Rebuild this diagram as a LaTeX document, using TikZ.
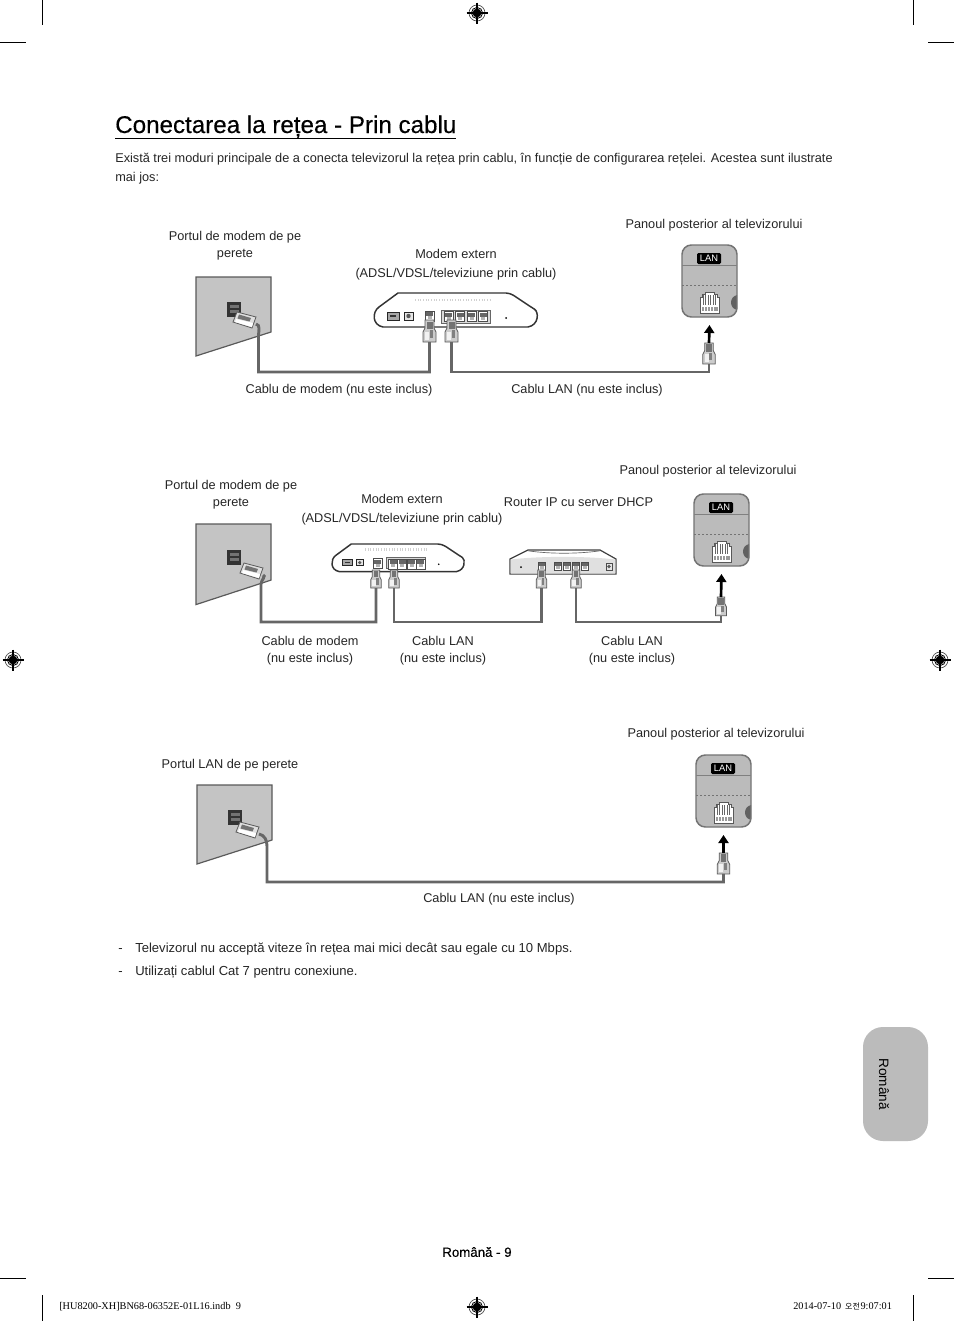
\documentclass[tikz,border=0pt]{standalone}
\usepackage{fontspec}
\setmainfont{Liberation Sans}
\newfontfamily\serifft{Liberation Serif}
\newfontfamily\krfont{Noto Sans CJK KR}
\newfontfamily\medft[FakeBold=0.25]{Liberation Sans}
\usetikzlibrary{arrows.meta,calc}
\newcommand{\bodyfs}{\fontsize{9.55pt}{12.75pt}\selectfont}
\definecolor{wallgray}{HTML}{C4C4C4}
\definecolor{tabgray}{HTML}{BBBBBB}
\definecolor{edgegray}{HTML}{5A5A5A}
\definecolor{cablegray}{HTML}{666666}
\tikzset{
  lbl/.style={inner sep=0pt,align=center,font=\bodyfs,text=black!85},
  lblwide/.style={lbl,font=\fontsize{9.55pt}{14.25pt}\selectfont},
  para/.style={inner sep=0pt,anchor=base west,font=\bodyfs,text=black!85},
  note/.style={para,font=\fontsize{9.8pt}{12.75pt}\selectfont},
  footer/.style={inner sep=0pt,anchor=base west,font=\serifft\fontsize{7.7pt}{9pt}\selectfont},
  cable/.style={draw=cablegray,line width=2.2pt,line join=miter},
  crop/.style={draw=black,line width=.5pt},
  thinline/.style={draw=edgegray,line width=.6pt},
  toTV/.style={draw=black,line width=2pt,-{Triangle[length=6pt,width=7.5pt]}},
  wall/.pic={
    \draw[fill=wallgray,draw=edgegray,line width=.9pt] (0,0) -- (75,0) -- (75,55) -- (0,79) -- cycle;
    \fill[black!80] (31,25) rectangle (45,40);
    \fill[black!55] (33.5,28) rectangle (42.5,31);
    \fill[black!55] (33.5,33) rectangle (42.5,36);
  },
  wallplug/.pic={
    \draw[fill=black!12,thinline] (4,0) -- (23,5) -- (19,16) -- (0,10) -- cycle;
    \draw[fill=black!55,draw=none] (6,2.5) -- (18,6) -- (16.5,9.5) -- (4.5,6.5) -- cycle;
    \draw[fill=white,draw=none] (2,10) -- (19,15) -- (20,11) -- (3,7) -- cycle;
    \coordinate (-out) at (23,12);
  },
  plugv/.pic={
    \draw[fill=black!20,thinline] (-4.5,0) -- (4.5,0) -- (4.5,8) -- (6.5,12) -- (6.5,22) -- (-6.5,22) -- (-6.5,12) -- (-4.5,8) -- cycle;
    \fill[black!55] (-3,1.5) rectangle (3,9);
    \fill[black!5] (-4.5,12) rectangle (-.5,20);
    \fill[black!50] (.5,10) rectangle (3.5,18);
    \coordinate (-end) at (0,22);
    \coordinate (-tip) at (0,0);
  },
  portglyph/.pic={
    \draw[fill=white,draw=black!70,line width=.5pt] (0,0) rectangle (9,10);
    \fill[black!60] (1,1) rectangle (8,5);
    \fill[black!30] (2.5,5) rectangle (6.5,8);
  },
  modembox/.pic={
    \draw[fill=white,draw=black!80,line width=1.1pt] [rounded corners=3pt] (25,0) -- (137,0) -- (158,14) [sharp corners] .. controls (166,19) and (166,32) .. (155,34) -- (10,34) .. controls (-1,32) and (-1,19) .. (6,14) -- cycle;
    \draw[black!18,line width=2pt,dash pattern=on .8pt off 1.2pt] (42,7) -- (118,7);
    \draw[fill=black!35,draw=black!85,line width=.7pt] (14,19) rectangle (26,27);
    \fill[black!80] (17,22) rectangle (23,24);
    \draw[fill=black!10,draw=black!85,line width=.7pt] (31,19) rectangle (40,27);
    \fill[black!65] (35.5,23) circle (2.2);
    \pic at (52,18) {portglyph};
    \draw[fill=black!15,draw=black!60,line width=.5pt] (68,17) rectangle (117,30);
    \pic at (71,18.5) {portglyph};
    \pic at (82.5,18.5) {portglyph};
    \pic at (94,18.5) {portglyph};
    \pic at (105.5,18.5) {portglyph};
    \fill[black] (133,25) circle (1);
  },
  routerbox/.pic={
    \draw[fill=white,draw=black!75,line width=.9pt] (18,0) -- (90,0) -- (106,9) -- (106,24) -- (0,24) -- (0,9) -- cycle;
    \fill[black!12] (.6,9.5) .. controls (30,6) and (76,6) .. (105.4,9.5) -- (105.4,23.5) -- (.6,23.5) -- cycle;
    \draw[black!60,line width=.5pt] (18,.8) .. controls (40,4) and (68,4) .. (90,.8);
    \fill[black] (11,17) circle (1);
    \pic[scale=.85] at (28,12) {portglyph};
    \pic[scale=.85] at (44,12) {portglyph};
    \pic[scale=.85] at (53,12) {portglyph};
    \pic[scale=.85] at (62,12) {portglyph};
    \pic[scale=.85] at (71,12) {portglyph};
    \draw[fill=black!10,draw=black!70,line width=.5pt] (96,13) rectangle (102,20);
    \fill[black!65] (99,16.5) circle (1.8);
  },
  tvpanel/.pic={
    \draw[fill=tabgray,draw=none,rounded corners=7] (0,0) rectangle (55,72);
    \fill[black!62] (55,50) .. controls (47,52) and (47,63) .. (55,65) -- cycle;
    \draw[draw=black!55,line width=1.1pt,rounded corners=7] (0,0) rectangle (55,72);
    \draw[black!50,line width=.7pt] (0,20) -- (55,20);
    \draw[black!55,line width=.7pt,dash pattern=on 1.5pt off 1.5pt] (0,40) -- (55,40);
    \fill[black,rounded corners=1] (15,8) rectangle (39,19);
    \node[inner sep=0pt,text=white,font=\fontsize{7pt}{8pt}\selectfont] (-lan) at (27,13.6) {LAN};
    \draw[fill=white,draw=black!65,line width=.5pt] (23,47) -- (32,47) -- (32,49) -- (35,49) -- (35,52) -- (37,52) -- (37,68) -- (18,68) -- (18,52) -- (20,52) -- (20,49) -- (23,49) -- cycle;
    \foreach \i in {21,23.5,26,28.5,31,33.5}{\draw[black!60,line width=.4pt] (\i,50) -- (\i,60);}
    \foreach \i in {19.5,22.5,25.5,28.5,31.5,34}{\draw[fill=black!40,draw=none] (\i,62) rectangle +(2,4);}
    \coordinate (-bottom) at (27.5,80);
  },
  regmark/.pic={
    \draw[black!70,line width=.5pt] (0,0) circle (8);
    \draw[black,line width=.6pt] (0,0) circle (5.6);
    \fill[black] (0,0) circle (4.4);
    \draw[black,line width=.8pt] (-10.5,0) -- (10.5,0) (0,-10.5) -- (0,10.5);
  }
}
\begin{document}
\begin{tikzpicture}[x=.75pt,y=-.75pt]
\useasboundingbox[fill=white] (0,0) rectangle (954,1321);
% crop marks
\draw[crop] (42,0) -- (42,25) (913,0) -- (913,25) (0,42) -- (26,42) (928,42) -- (954,42);
\draw[crop] (42,1295) -- (42,1321) (913,1295) -- (913,1321) (0,1278) -- (26,1278) (928,1278) -- (954,1278);
\pic (r1) at (477,13) {regmark};
\pic (r2) at (477,1307) {regmark};
\pic (r3) at (13,660) {regmark};
\pic (r4) at (940,660) {regmark};
% heading
\node[inner sep=0pt,anchor=base west,font=\medft\fontsize{18.12pt}{22pt}\selectfont,text=black] (title) at (115,133) {Conectarea la rețea - Prin cablu};
\draw[black,line width=.6pt] (115,138.5) -- (456,138.5);
\node[para] (intro1) at (115,162.5) {Există trei moduri principale de a conecta televizorul la rețea prin cablu, în funcție de configurarea rețelei. Acestea sunt ilustrate};
\node[para] (intro2) at (115,181.5) {mai jos:};
% === diagram 1 ===
\pic (w1) at (196,277) {wall};
\pic (wp1) at (233,312) {wallplug};
\pic (m1) at (373,293) {modembox};
\pic (pa) at (429.5,320) {plugv};
\pic (pb) at (451.5,320) {plugv};
\pic (tv1) at (682,245) {tvpanel};
\pic[scale=.95] (pt1) at (709,343) {plugv};
\coordinate (bus1) at (0,372);
\coordinate (d1) at (258.5,336);
\draw[cable] (wp1-out) to[out=-10,in=90] (d1) -- (d1 |- bus1) -- (pa-end |- bus1) -- (pa-end);
\draw[cable] (pb-end) -- (pb-end |- bus1) -- (pt1-end |- bus1) -- (pt1-end);
\draw[toTV] (pt1-tip) -- (tv1-bottom);
\node[lbl] (l11) at (235,246) {Portul de modem de pe\\perete};
\node[lblwide] (l12) at (456,264.5) {Modem extern\\(ADSL/VDSL/televiziune prin cablu)};
\node[lbl] (l13) at (714,225) {Panoul posterior al televizorului};
\node[lbl] (l14) at (339,390) {Cablu de modem (nu este inclus)};
\node[lbl] (l15) at (587,390) {Cablu LAN (nu este inclus)};
% === diagram 2 ===
\pic[yscale=1.02] (w2) at (196,524) {wall};
\pic (wp2) at (240,563) {wallplug};
\pic[scale=.81] (m2) at (331,544) {modembox};
\pic[scale=.82] (pc) at (376,570) {plugv};
\pic[scale=.82] (pd) at (394,570) {plugv};
\pic (r) at (510,550) {routerbox};
\pic[scale=.82] (pe) at (541.5,570) {plugv};
\pic[scale=.82] (pf) at (576,570) {plugv};
\pic (tv2) at (694,494) {tvpanel};
\pic[scale=.85] (pt2) at (721,597) {plugv};
\coordinate (bus2) at (0,622);
\coordinate (d2) at (261,584);
\draw[cable] (wp2-out) to[out=-10,in=90] (d2) -- (d2 |- bus2) -- (pc-end |- bus2) -- (pc-end);
\draw[cable] (pd-end) -- (pd-end |- bus2) -- (pe-end |- bus2) -- (pe-end);
\draw[cable] (pf-end) -- (pf-end |- bus2) -- (pt2-end |- bus2) -- (pt2-end);
\draw[toTV] (pt2-tip) -- (tv2-bottom);
\node[lbl] (l21) at (231,494.5) {Portul de modem de pe\\perete};
\node[lblwide] (l22) at (402,509.5) {Modem extern\\(ADSL/VDSL/televiziune prin cablu)};
\node[lbl] (l23) at (578.5,502) {Router IP cu server DHCP};
\node[lbl] (l24) at (708,471) {Panoul posterior al televizorului};
\node[lbl] (l25) at (310,650.5) {Cablu de modem\\(nu este inclus)};
\node[lbl] (l26) at (443,650.5) {Cablu LAN\\(nu este inclus)};
\node[lbl] (l27) at (632,650.5) {Cablu LAN\\(nu este inclus)};
% === diagram 3 ===
\pic (w3) at (197,785) {wall};
\pic (wp3) at (236,822) {wallplug};
\pic (tv3) at (696,755) {tvpanel};
\pic[scale=.95] (pt3) at (723.5,853) {plugv};
\coordinate (bus3) at (0,882);
\coordinate (d3) at (267,846);
\draw[cable] (wp3-out) to[out=-10,in=90] (d3) -- (d3 |- bus3) -- (pt3-end |- bus3) -- (pt3-end);
\draw[toTV] (pt3-tip) -- (tv3-bottom);
\node[lbl] (l31) at (716,734) {Panoul posterior al televizorului};
\node[lbl] (l32) at (230,765) {Portul LAN de pe perete};
\node[lbl] (l33) at (499,899) {Cablu LAN (nu este inclus)};
% notes
\node[note] (n1a) at (118,952.5) {-};
\node[note] (n1) at (135,952.5) {Televizorul nu acceptă viteze în rețea mai mici decât sau egale cu 10 Mbps.};
\node[note] (n2a) at (118,975.5) {-};
\node[note] (n2) at (135,975.5) {Utilizați cablul Cat 7 pentru conexiune.};
% language tab
\fill[tabgray,rounded corners=15] (863,1027) rectangle (928,1141);
\node[lbl,rotate=-90,text=black,font=\fontsize{10.2pt}{12pt}\selectfont] (tabtext) at (884,1084) {Română};
% page number
\node[lbl,text=black,font=\medft\fontsize{9.95pt}{12pt}\selectfont] (pageno) at (477,1252) {Română - 9};
% slug lines
\node[footer] (f1) at (59,1309) {[HU8200-XH]BN68-06352E-01L16.indb\hspace{4pt}9};
\node[footer] (f2) at (793,1309) {2014-07-10\hspace{3pt}{\krfont\fontsize{6pt}{8pt}\selectfont 오전}\hspace{.5pt}9:07:01};
\end{tikzpicture}
\end{document}
